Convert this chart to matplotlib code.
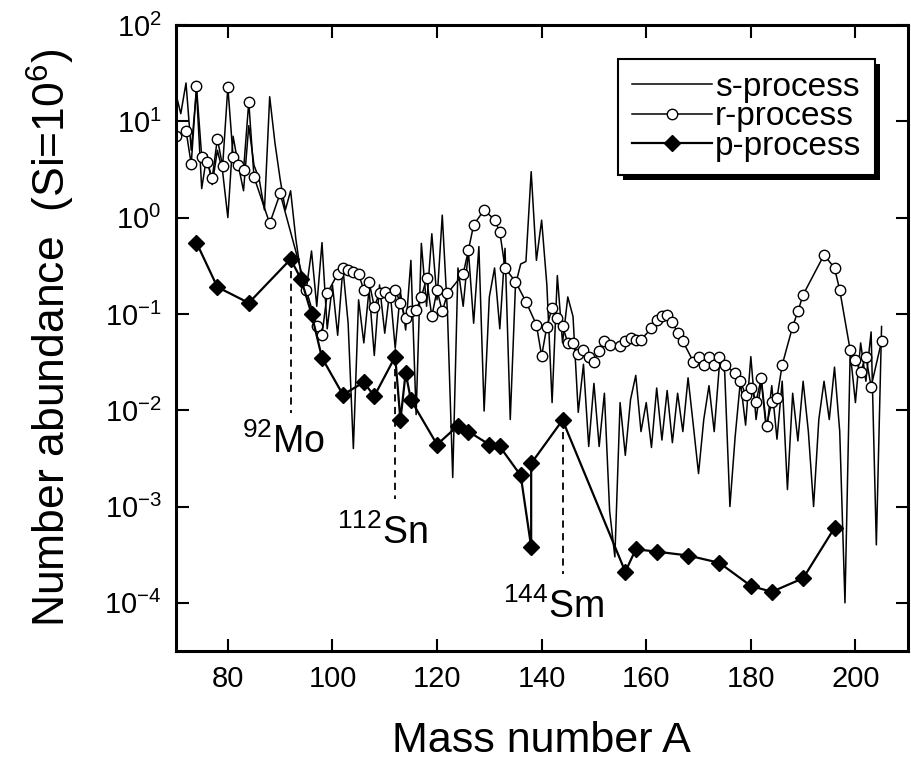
import numpy as np
import matplotlib
matplotlib.use("Agg")
import matplotlib.pyplot as plt
import matplotlib.patheffects as pe

plt.rcParams['font.family'] = ['Liberation Sans', 'DejaVu Sans']
plt.rcParams['mathtext.default'] = 'regular'

# s-process abundances, one per mass number 70..205
s_mass = np.arange(70, 206)
s_val = [20, 12, 25, 5, 21, 2.0, 4.5, 2.2, 5.0, 3.0,
         1.0, 7.0, 3.5, 1.9, 9.0, 3.5, 2.5, 1.2, 18, 6.0,
         2.5, 1.2, 1.9, 0.6, 0.25, 0.18, 0.45, 0.12, 0.55, 0.07,
         0.2, 0.06, 0.3, 0.08, 0.004, 0.14, 0.05, 0.18, 0.037, 0.2,
         0.063, 0.18, 0.044, 0.17, 0.068, 0.36, 0.009, 0.54, 0.12, 0.68,
         0.14, 1.06, 0.1, 0.002, 0.3, 0.12, 0.45, 0.08, 0.5, 0.0098,
         0.15, 0.3, 0.07, 0.48, 0.008, 0.2, 0.33, 0.35, 3.0, 0.36,
         0.94, 0.2, 0.012, 0.25, 0.05, 0.15, 0.094, 0.0095, 0.03, 0.0042,
         0.019, 0.0042, 0.015, 0.0009, 0.0003, 0.012, 0.0034, 0.0129, 0.023, 0.006,
         0.012, 0.0041, 0.017, 0.0049, 0.016, 0.0046, 0.015, 0.006, 0.0217, 0.007,
         0.0022, 0.008, 0.018, 0.006, 0.03, 0.025, 0.001, 0.0053, 0.02, 0.007,
         0.036, 0.008, 0.02, 0.006, 0.018, 0.005, 0.02, 0.0015, 0.015, 0.0048,
         0.02, 0.006, 0.001, 0.008, 0.02, 0.008, 0.028, 0.006, 0.0001, 0.04,
         0.012, 0.05, 0.02, 0.065, 0.0004, 0.074]

# r-process residuals
r_mass = [70, 72, 73, 74, 75, 76, 77, 78, 79, 80, 81, 82, 83, 84, 85, 88, 90,
          95, 97, 98, 99, 101, 102, 103, 104, 105, 106, 107, 108, 109, 110,
          111, 112, 113, 114, 115, 116, 117, 118, 119, 120, 121, 122, 125,
          126, 127, 129, 131, 132, 133, 135, 137, 139, 140, 141, 142, 143,
          144, 145, 146, 147, 148, 149, 150, 151, 152, 153, 155, 156, 157,
          158, 159, 161, 162, 163, 164, 165, 166, 167, 169, 170, 171, 172,
          173, 174, 175, 177, 178, 179, 180, 181, 182, 183, 184, 185, 186,
          188, 189, 190, 194, 196, 197, 199, 200, 201, 202, 203, 205]
r_val = [7.0, 8.0, 3.6, 23, 4.3, 3.8, 2.55, 6.6, 3.4, 22.7, 4.3, 3.5, 3.1, 15.9, 2.65, 0.87, 1.78,
         0.177, 0.075, 0.06, 0.164, 0.26, 0.3, 0.286, 0.27, 0.26, 0.177, 0.216, 0.119, 0.164, 0.17,
         0.15, 0.177, 0.13, 0.09, 0.108, 0.11, 0.15, 0.234, 0.094, 0.177, 0.106, 0.164, 0.26,
         0.46, 0.84, 1.2, 0.95, 0.71, 0.30, 0.216, 0.134, 0.077, 0.0367, 0.074, 0.115, 0.09,
         0.075, 0.05, 0.05, 0.038, 0.042, 0.036, 0.032, 0.041, 0.052, 0.048, 0.046, 0.052, 0.056,
         0.054, 0.054, 0.071, 0.087, 0.094, 0.097, 0.083, 0.063, 0.052, 0.032, 0.036, 0.0296, 0.036,
         0.0296, 0.036, 0.0296, 0.0243, 0.02, 0.0145, 0.017, 0.0123, 0.0215, 0.0068, 0.0123, 0.0134, 0.0296,
         0.074, 0.106, 0.158, 0.41, 0.30, 0.177, 0.042, 0.033, 0.025, 0.036, 0.0176, 0.052]

# p-nuclei
p_mass = [74, 78, 84, 92, 94, 96, 98, 102, 106, 108, 112, 113, 114, 115, 120,
          124, 126, 130, 132, 136, 138, 138, 144, 156, 158, 162, 168, 174, 180,
          184, 190, 196]
p_val = [0.55, 0.19, 0.13, 0.37, 0.23, 0.10, 0.035, 0.0145, 0.0195, 0.014, 0.036,
         0.0079, 0.0245, 0.0128, 0.0044, 0.0069, 0.006, 0.0044, 0.0042, 0.0021,
         0.00038, 0.0028, 0.0079, 0.00021, 0.00036, 0.00034, 0.00031, 0.00026,
         0.00015, 0.00013, 0.00018, 0.0006]

# labelled nuclei
lab_mass = [92, 112, 144]
lab_top = [0.37, 0.036, 0.0079]
lab_bot = [0.0094, 0.0012, 0.0002]
lab_text = [r'$^{92}$Mo', r'$^{112}$Sn', r'$^{144}$Sm']
lab_x = [82.7, 100.9, 132.6]
lab_y = [0.0036, 0.00041, 0.00007]

fig = plt.figure(figsize=(9.11, 7.62), dpi=100)
ax = fig.add_axes([0.1927, 0.1457, 0.8037, 0.8215])

ax.plot(s_mass, s_val, color='black', lw=1.1, label='s-process')
ax.plot(r_mass, r_val, color='black', lw=1.1, marker='o', ms=7.5,
        mfc='white', mec='black', mew=1.0, label='r-process')
ax.plot(p_mass, p_val, color='black', lw=1.6, marker='D', ms=8.5,
        mfc='black', mec='black', label='p-process')

for m, top, bot, txt, tx, ty in zip(lab_mass, lab_top, lab_bot, lab_text, lab_x, lab_y):
    ax.plot([m, m], [top * 0.75, bot], color='black', lw=1.3, ls=(0, (4, 3)))
    ax.text(tx, ty, txt, fontsize=27, ha='left', va='baseline')

ax.set_yscale('log')
ax.set_xlim(70, 210)
ax.set_ylim(10 ** -4.5, 100)
ax.set_xticks([80, 100, 120, 140, 160, 180, 200])
ax.set_yticks([1e-4, 1e-3, 1e-2, 1e-1, 1, 10, 100])
ax.minorticks_off()
ax.tick_params(direction='in', length=9, width=1.5, top=True, right=True,
               labelsize=21, pad=10)
for sp in ax.spines.values():
    sp.set_linewidth(2.2)

ax.set_xlabel('Mass number A', fontsize=31, labelpad=20)
ax.set_ylabel(r'Number abundance  (Si=10$^{6}$)', fontsize=32, labelpad=20)

leg = ax.legend(loc='upper right', bbox_to_anchor=(0.955, 0.946), fontsize=24,
                frameon=True, fancybox=False, edgecolor='black',
                handlelength=2.4, handletextpad=0.1, labelspacing=-0.05,
                borderpad=0.4, borderaxespad=0)
frame = leg.get_frame()
frame.set_linewidth(1.5)
frame.set_alpha(1)
frame.set_path_effects([pe.SimplePatchShadow(offset=(3.5, -3.5), shadow_rgbFace='black', alpha=1),
                        pe.Normal()])

fig.savefig('out.png', dpi=100)
